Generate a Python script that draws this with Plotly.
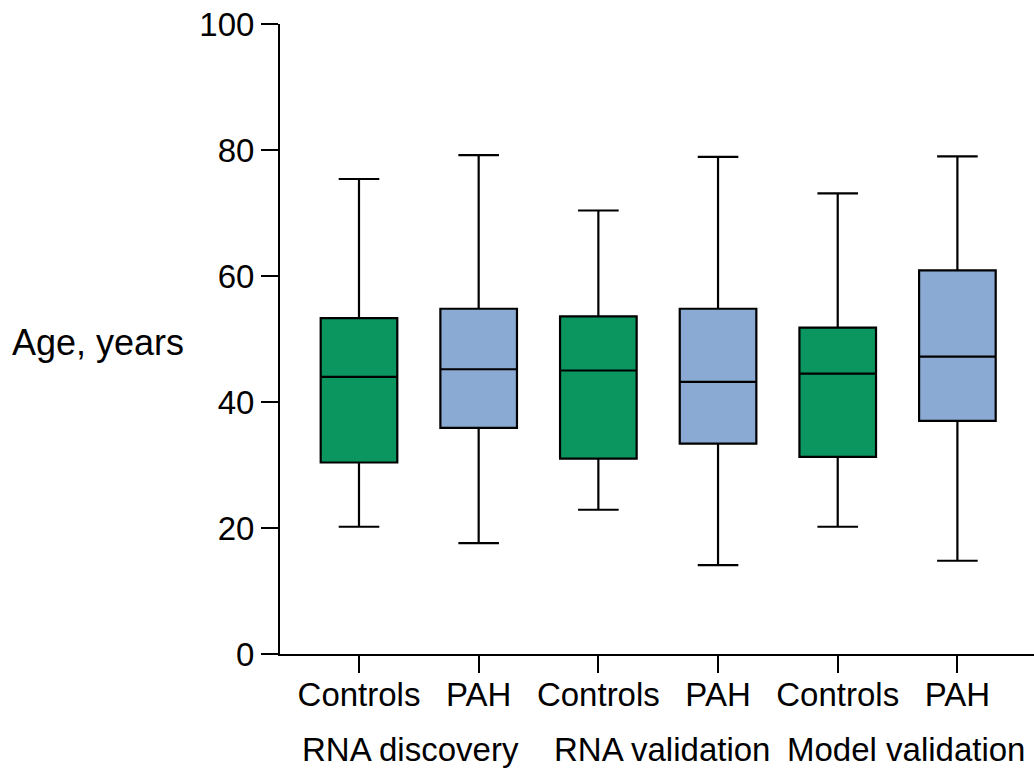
import plotly.graph_objects as go

# Age distribution summary per cohort and group
groups = ["Controls", "PAH", "Controls", "PAH", "Controls", "PAH"]
cohorts = ["RNA discovery", "RNA validation", "Model validation"]
cohort_pos = [0.43, 2.53, 4.57]
lower = [20.2, 17.6, 22.9, 14.1, 20.2, 14.8]
q1 = [30.4, 35.9, 31.0, 33.4, 31.3, 37.0]
median = [44.0, 45.2, 45.0, 43.2, 44.5, 47.2]
q3 = [53.3, 54.8, 53.6, 54.8, 51.8, 60.9]
upper = [75.4, 79.2, 70.4, 78.9, 73.1, 79.0]
y_ticks = [0, 20, 40, 60, 80, 100]

colors = {"Controls": "#0b9660", "PAH": "#8aaad3"}
FONT = "Liberation Sans, Arial, sans-serif"
FS = 33

fig = go.Figure()
for i, g in enumerate(groups):
    fig.add_trace(go.Box(
        x=[i], q1=[q1[i]], median=[median[i]], q3=[q3[i]],
        lowerfence=[lower[i]], upperfence=[upper[i]],
        fillcolor=colors[g], line=dict(color="black", width=2.2),
        width=0.64, whiskerwidth=0.53, boxpoints=False, showlegend=False,
        hoverinfo="skip",
    ))

for name, pos in zip(cohorts, cohort_pos):
    fig.add_annotation(x=pos, xref="x", y=-0.152, yref="paper",
                       text=name, showarrow=False, xanchor="center", yanchor="middle",
                       font=dict(size=FS, color="black", family=FONT))

fig.add_annotation(x=(10 - 280) / 754, xref="paper", y=0.495, yref="paper", text="Age, years",
                   showarrow=False, xanchor="left", yanchor="middle",
                   font=dict(size=36, color="black", family=FONT))

fig.update_layout(
    width=1034, height=771,
    margin=dict(l=280, r=0, t=24, b=117),
    paper_bgcolor="white", plot_bgcolor="white",
    font=dict(family=FONT, size=FS, color="black"),
    xaxis=dict(range=[-0.66, 5.64], tickmode="array", tickvals=list(range(6)),
               ticktext=groups, tickfont=dict(size=FS, family=FONT, color="black"),
               ticklabelstandoff=-7,
               showline=True, linecolor="black", linewidth=2,
               ticks="outside", ticklen=17, tickwidth=2, tickcolor="black",
               showgrid=False, zeroline=False, fixedrange=True),
    yaxis=dict(range=[0, 100], tickmode="array", tickvals=y_ticks,
               tickfont=dict(size=FS, family=FONT, color="black"),
               showline=True, linecolor="black", linewidth=2,
               ticks="outside", ticklen=17, tickwidth=2, tickcolor="black",
               showgrid=False, zeroline=False),
)

fig.write_html("out.html")
